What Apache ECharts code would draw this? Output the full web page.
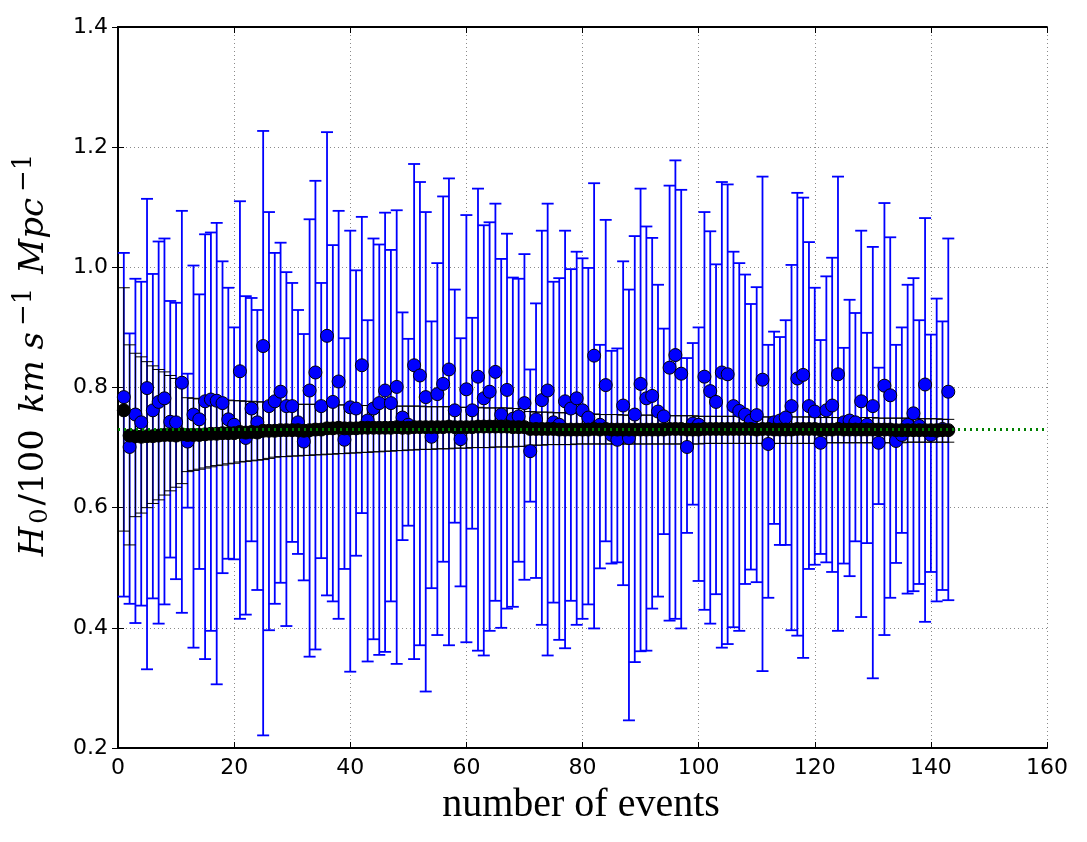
<!DOCTYPE html>
<html>
<head>
<meta charset="utf-8">
<script src="https://cdn.jsdelivr.net/npm/echarts@6/dist/echarts.min.js"></script>
<style>
  html, body { margin: 0; padding: 0; background: #fff; }
  #chart { width: 1087px; height: 842px; }
</style>
</head>
<body>
<div id="chart"></div>
<script>
// single-event estimates (blue): value, upper end, lower end
const eventVal = [
  0.784, 0.701, 0.755, 0.742, 0.799, 0.762, 0.776, 0.782, 0.743, 0.742,
  0.808, 0.710, 0.755, 0.747, 0.777, 0.780, 0.778, 0.774, 0.747, 0.738,
  0.827, 0.716, 0.765, 0.742, 0.869, 0.769, 0.777, 0.793, 0.769, 0.769,
  0.742, 0.710, 0.795, 0.825, 0.769, 0.886, 0.776, 0.810, 0.713, 0.767,
  0.765, 0.837, 0.745, 0.765, 0.774, 0.795, 0.774, 0.801, 0.750, 0.738,
  0.837, 0.820, 0.784, 0.718, 0.789, 0.806, 0.830, 0.762, 0.714, 0.797,
  0.762, 0.818, 0.782, 0.793, 0.826, 0.755, 0.796, 0.748, 0.752, 0.774,
  0.694, 0.747, 0.779, 0.795, 0.742, 0.738, 0.777, 0.765, 0.782, 0.762,
  0.750, 0.853, 0.738, 0.804, 0.721, 0.713, 0.770, 0.716, 0.755, 0.806,
  0.782, 0.786, 0.760, 0.752, 0.833, 0.854, 0.823, 0.701, 0.740, 0.738,
  0.818, 0.794, 0.776, 0.825, 0.822, 0.769, 0.761, 0.755, 0.745, 0.754,
  0.813, 0.706, 0.742, 0.745, 0.750, 0.769, 0.815, 0.821, 0.769, 0.760,
  0.708, 0.762, 0.770, 0.822, 0.742, 0.745, 0.742, 0.777, 0.738, 0.769,
  0.708, 0.803, 0.787, 0.711, 0.721, 0.738, 0.757, 0.736, 0.805, 0.721,
  0.728, 0.731, 0.793
];
const eventHi = [
  1.024, 0.890, 0.981, 0.976, 1.114, 0.989, 1.043, 1.048, 0.944, 0.941,
  1.094, 0.823, 1.003, 0.955, 1.055, 1.058, 1.074, 1.010, 0.966, 0.900,
  1.110, 0.952, 0.949, 0.929, 1.227, 1.092, 1.024, 1.041, 0.992, 0.974,
  0.929, 0.889, 1.080, 1.144, 0.974, 1.225, 1.037, 1.094, 0.882, 1.061,
  0.995, 1.084, 0.912, 1.048, 1.038, 1.091, 1.029, 1.095, 0.925, 0.881,
  1.172, 1.142, 1.092, 0.910, 1.007, 1.118, 1.148, 0.963, 0.882, 1.087,
  0.916, 1.131, 1.070, 1.075, 1.106, 1.014, 1.056, 0.983, 0.981, 1.022,
  0.830, 0.940, 1.061, 1.106, 0.976, 0.982, 1.061, 0.997, 1.026, 1.015,
  0.999, 1.140, 0.871, 1.079, 0.861, 0.865, 1.010, 0.963, 1.052, 1.131,
  1.068, 1.049, 0.971, 0.898, 1.136, 1.178, 1.129, 0.849, 0.874, 0.900,
  1.092, 1.060, 1.005, 1.142, 1.138, 1.026, 1.007, 0.988, 0.939, 0.967,
  1.151, 0.871, 0.893, 0.884, 0.912, 1.004, 1.124, 1.116, 1.042, 0.966,
  0.879, 0.985, 1.016, 1.151, 0.866, 0.946, 0.924, 1.061, 0.891, 1.034,
  0.833, 1.107, 1.050, 0.871, 0.900, 0.971, 0.982, 0.912, 1.082, 0.888,
  0.948, 0.910, 1.048
];
const eventLo = [
  0.452, 0.440, 0.408, 0.437, 0.331, 0.449, 0.407, 0.439, 0.517, 0.481,
  0.425, 0.600, 0.367, 0.498, 0.348, 0.395, 0.306, 0.491, 0.515, 0.514,
  0.415, 0.422, 0.544, 0.463, 0.221, 0.396, 0.440, 0.475, 0.403, 0.543,
  0.523, 0.479, 0.352, 0.364, 0.516, 0.454, 0.444, 0.415, 0.498, 0.327,
  0.520, 0.591, 0.344, 0.381, 0.355, 0.360, 0.444, 0.340, 0.546, 0.570,
  0.348, 0.371, 0.294, 0.466, 0.388, 0.510, 0.371, 0.575, 0.469, 0.376,
  0.565, 0.362, 0.354, 0.395, 0.445, 0.400, 0.432, 0.435, 0.510, 0.480,
  0.610, 0.483, 0.405, 0.354, 0.442, 0.380, 0.366, 0.445, 0.405, 0.415,
  0.439, 0.399, 0.499, 0.544, 0.507, 0.509, 0.471, 0.246, 0.343, 0.361,
  0.362, 0.432, 0.452, 0.556, 0.412, 0.415, 0.399, 0.558, 0.605, 0.478,
  0.430, 0.407, 0.456, 0.367, 0.373, 0.401, 0.395, 0.473, 0.497, 0.476,
  0.328, 0.450, 0.573, 0.538, 0.538, 0.396, 0.387, 0.350, 0.498, 0.505,
  0.523, 0.509, 0.493, 0.395, 0.507, 0.486, 0.544, 0.418, 0.541, 0.316,
  0.606, 0.388, 0.450, 0.508, 0.558, 0.457, 0.461, 0.473, 0.410, 0.493,
  0.444, 0.463, 0.446
];

// combined estimate (black): value, upper end, lower end
const combVal = [
  0.762, 0.720, 0.719, 0.718, 0.719, 0.719, 0.720, 0.721, 0.721, 0.720,
  0.722, 0.721, 0.721, 0.721, 0.722, 0.723, 0.723, 0.724, 0.724, 0.724,
  0.726, 0.725, 0.726, 0.725, 0.728, 0.728, 0.728, 0.729, 0.729, 0.729,
  0.729, 0.728, 0.729, 0.730, 0.730, 0.732, 0.732, 0.733, 0.732, 0.732,
  0.732, 0.733, 0.733, 0.733, 0.733, 0.733, 0.733, 0.734, 0.733, 0.733,
  0.734, 0.734, 0.734, 0.734, 0.734, 0.734, 0.735, 0.734, 0.734, 0.734,
  0.734, 0.735, 0.735, 0.735, 0.735, 0.735, 0.735, 0.734, 0.734, 0.734,
  0.731, 0.731, 0.731, 0.731, 0.731, 0.730, 0.730, 0.730, 0.730, 0.730,
  0.730, 0.731, 0.730, 0.731, 0.730, 0.730, 0.730, 0.730, 0.730, 0.730,
  0.730, 0.730, 0.730, 0.730, 0.731, 0.731, 0.731, 0.730, 0.730, 0.730,
  0.731, 0.731, 0.731, 0.731, 0.731, 0.731, 0.731, 0.731, 0.731, 0.730,
  0.731, 0.731, 0.730, 0.730, 0.730, 0.730, 0.731, 0.731, 0.731, 0.731,
  0.730, 0.730, 0.730, 0.731, 0.730, 0.730, 0.730, 0.730, 0.730, 0.730,
  0.730, 0.730, 0.730, 0.729, 0.729, 0.729, 0.729, 0.729, 0.729, 0.729,
  0.729, 0.729, 0.729
];
const combHi = [
  0.966, 0.871, 0.857, 0.851, 0.843, 0.836, 0.830, 0.826, 0.820, 0.815,
  0.810, 0.783, 0.782, 0.781, 0.781, 0.780, 0.780, 0.779, 0.779, 0.778,
  0.778, 0.777, 0.777, 0.776, 0.776, 0.775, 0.773, 0.773, 0.773, 0.772,
  0.772, 0.772, 0.772, 0.772, 0.771, 0.771, 0.771, 0.771, 0.771, 0.770,
  0.770, 0.770, 0.770, 0.770, 0.770, 0.769, 0.769, 0.769, 0.769, 0.769,
  0.769, 0.769, 0.768, 0.768, 0.768, 0.768, 0.768, 0.767, 0.767, 0.767,
  0.767, 0.767, 0.766, 0.766, 0.766, 0.766, 0.766, 0.765, 0.765, 0.765,
  0.760, 0.759, 0.759, 0.759, 0.758, 0.758, 0.758, 0.757, 0.757, 0.756,
  0.756, 0.756, 0.755, 0.755, 0.755, 0.755, 0.754, 0.754, 0.754, 0.754,
  0.754, 0.754, 0.753, 0.753, 0.753, 0.753, 0.753, 0.753, 0.753, 0.752,
  0.752, 0.752, 0.752, 0.752, 0.752, 0.752, 0.752, 0.752, 0.752, 0.752,
  0.751, 0.751, 0.751, 0.751, 0.751, 0.751, 0.751, 0.751, 0.751, 0.751,
  0.750, 0.750, 0.750, 0.750, 0.750, 0.750, 0.750, 0.750, 0.750, 0.750,
  0.749, 0.749, 0.749, 0.749, 0.749, 0.749, 0.748, 0.748, 0.748, 0.748,
  0.748, 0.747, 0.747
];
const combLo = [
  0.561, 0.538, 0.585, 0.591, 0.600, 0.607, 0.613, 0.621, 0.628, 0.634,
  0.640, 0.660, 0.662, 0.664, 0.666, 0.668, 0.670, 0.671, 0.673, 0.674,
  0.676, 0.677, 0.678, 0.679, 0.680, 0.682, 0.684, 0.685, 0.685, 0.686,
  0.686, 0.687, 0.687, 0.688, 0.688, 0.689, 0.689, 0.690, 0.690, 0.691,
  0.691, 0.692, 0.692, 0.693, 0.693, 0.694, 0.694, 0.695, 0.695, 0.696,
  0.696, 0.697, 0.697, 0.697, 0.698, 0.698, 0.698, 0.699, 0.699, 0.699,
  0.700, 0.700, 0.700, 0.700, 0.701, 0.701, 0.701, 0.701, 0.702, 0.702,
  0.704, 0.704, 0.704, 0.705, 0.705, 0.705, 0.705, 0.705, 0.706, 0.706,
  0.706, 0.706, 0.706, 0.706, 0.706, 0.706, 0.706, 0.706, 0.706, 0.706,
  0.706, 0.706, 0.706, 0.706, 0.706, 0.706, 0.706, 0.706, 0.706, 0.706,
  0.707, 0.707, 0.707, 0.707, 0.707, 0.707, 0.707, 0.707, 0.707, 0.707,
  0.707, 0.707, 0.707, 0.707, 0.707, 0.707, 0.707, 0.707, 0.707, 0.707,
  0.708, 0.708, 0.708, 0.708, 0.708, 0.708, 0.708, 0.708, 0.708, 0.708,
  0.708, 0.708, 0.708, 0.708, 0.708, 0.709, 0.709, 0.709, 0.709, 0.709,
  0.709, 0.709, 0.709
];

const trueH0 = 0.73;

const chart = echarts.init(document.getElementById('chart'));

const eventBars = eventVal.map((v, i) => [i + 1, eventLo[i], eventHi[i]]);
const eventPts = eventVal.map((v, i) => [i + 1, v]);
const combBars = combVal.map((v, i) => [i + 1, combLo[i], combHi[i]]);
const combPts = combVal.map((v, i) => [i + 1, v]);

// vertical bar plus two caps, drawn through the axes
function errorBars(color, width, cap) {
  return function (params, api) {
    const x = api.value(0);
    const lo = api.coord([x, api.value(1)]);
    const hi = api.coord([x, api.value(2)]);
    const st = { stroke: color, lineWidth: width };
    return {
      type: 'group',
      children: [
        { type: 'line', shape: { x1: hi[0], y1: hi[1], x2: lo[0], y2: lo[1] }, style: st },
        { type: 'line', shape: { x1: hi[0] - cap, y1: hi[1], x2: hi[0] + cap, y2: hi[1] }, style: st },
        { type: 'line', shape: { x1: lo[0] - cap, y1: lo[1], x2: lo[0] + cap, y2: lo[1] }, style: st }
      ]
    };
  };
}

const tickFont = { color: '#000', fontSize: 22, fontFamily: 'DejaVu Sans' };
const gridLine = { show: true, lineStyle: { color: '#8a8a8a', type: [1, 3], width: 1 } };
const frame = { show: true, lineStyle: { color: '#000', width: 1.8 } };
const inTick = { show: true, inside: true, length: 6, lineStyle: { color: '#000', width: 1 } };

const option = {
  animation: false,
  backgroundColor: '#fff',
  grid: { left: 118, right: 40, top: 27, bottom: 94 },
  xAxis: [
    {
      type: 'value', min: 0, max: 160, interval: 20,
      axisLine: frame, axisTick: inTick,
      axisLabel: Object.assign({ margin: 9 }, tickFont),
      splitLine: gridLine
    },
    {
      type: 'value', min: 0, max: 160, interval: 20, position: 'top',
      axisLine: frame, axisTick: inTick,
      axisLabel: { show: false }, splitLine: { show: false }
    }
  ],
  yAxis: [
    {
      type: 'value', min: 0.2, max: 1.4, interval: 0.2,
      axisLine: frame, axisTick: inTick,
      axisLabel: Object.assign({ margin: 10, formatter: v => v.toFixed(1) }, tickFont),
      splitLine: gridLine
    },
    {
      type: 'value', min: 0.2, max: 1.4, interval: 0.2, position: 'right',
      axisLine: frame, axisTick: inTick,
      axisLabel: { show: false }, splitLine: { show: false }
    }
  ],
  series: [
    {
      type: 'custom', renderItem: errorBars('#0000ff', 1.8, 6),
      data: eventBars, encode: { x: 0, y: [1, 2] }, silent: true
    },
    {
      type: 'scatter', data: eventPts, symbol: 'circle', symbolSize: 13,
      itemStyle: { color: '#0000ff', borderColor: '#000', borderWidth: 1, opacity: 1 }
    },
    {
      type: 'custom', renderItem: errorBars('#000', 1, 6),
      data: combBars, encode: { x: 0, y: [1, 2] }, silent: true
    },
    {
      type: 'scatter', data: combPts, symbol: 'circle', symbolSize: 13,
      itemStyle: { color: '#000', borderColor: '#000', borderWidth: 1, opacity: 1 }
    },
    {
      type: 'line', data: [[0, trueH0], [160, trueH0]], symbol: 'none',
      lineStyle: { color: '#008000', width: 3, type: [2, 4] }, silent: true
    }
  ],
  graphic: [
    {
      type: 'text', x: 581, y: 805,
      style: {
        text: 'number of events',
        font: '40px "Liberation Serif"', fill: '#000',
        align: 'center', verticalAlign: 'middle'
      }
    },
    {
      type: 'text', x: 34, y: 358, rotation: Math.PI / 2,
      style: {
        text: '{i|H}{sub|0}{n|/100}{i|km s}{sup|−1}{i|Mpc}{sup|−1}',
        align: 'center', verticalAlign: 'middle',
        rich: {
          i: { fontFamily: 'DejaVu Serif', fontStyle: 'italic', fontSize: 34, fill: '#000', padding: [0, 3, 0, 10] },
          n: { fontFamily: 'DejaVu Serif', fontSize: 34, fill: '#000', padding: [0, 6, 0, 0] },
          sub: { fontFamily: 'DejaVu Serif', fontSize: 24, fill: '#000', padding: [14, 3, 0, 0] },
          sup: { fontFamily: 'DejaVu Serif', fontSize: 26, fill: '#000', padding: [0, 4, 20, 3] }
        }
      }
    }
  ]
};

chart.setOption(option);
</script>
</body>
</html>
